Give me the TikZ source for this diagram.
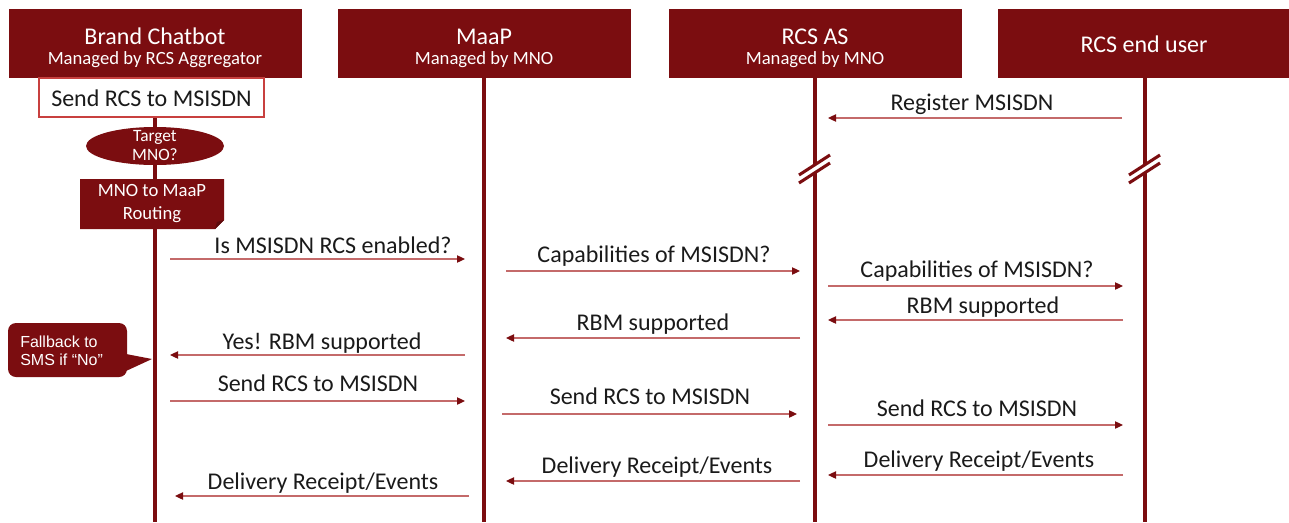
\documentclass[tikz,border=0pt]{standalone}
\usepackage{fontspec}
\setmainfont{Carlito}
\newfontfamily\arialf{Liberation Sans}
\usetikzlibrary{arrows.meta,shapes.geometric}
\definecolor{dred}{HTML}{7B0D10}
\definecolor{lred}{HTML}{C46A6A}
\definecolor{bred}{HTML}{C8403F}
\definecolor{txt}{HTML}{1A1A1A}
\begin{document}
\begin{tikzpicture}[x=0.75pt,y=-0.75pt,
  hdr/.style={rectangle,fill=dred,minimum width=219.75pt,minimum height=51.75pt,inner sep=0pt},
  htitle/.style={anchor=base,text=white,inner sep=0pt,font=\fontsize{18}{21}\selectfont},
  hsub/.style={anchor=base,text=white,inner sep=0pt,font=\fontsize{14}{17}\selectfont},
  life/.style={draw=dred,line width=3pt},
  brk/.style={draw=dred,line width=2.3pt},
  msg/.style={draw=lred,line width=0.9pt,-{Triangle[length=6pt,width=5.5pt,color=dred]}},
  lbl/.style={anchor=base,text=txt,inner sep=0pt,font=\fontsize{18}{21}\selectfont},
  sendbox/.style={rectangle,draw=bred,line width=1.1pt,fill=white,minimum width=168.75pt,minimum height=29.25pt,inner sep=0pt},
  decide/.style={ellipse,fill=dred,minimum width=103.5pt,minimum height=28.5pt,inner sep=0pt},
  smallw/.style={text=white,inner sep=0pt,align=center},
  callout/.style={fill=dred,rounded corners=6pt}
]
\useasboundingbox (0,0) rectangle (1289,522);

% headers
\node[hdr] (h1) at (155,43.5) {};
\node[hdr] (h2) at (484,43.5) {};
\node[hdr] (h3) at (815,43.5) {};
\node[hdr] (h4) at (1144,43.5) {};

% lifeline ends
\coordinate (b1) at (155,522);
\coordinate (b2) at (484,522);
\coordinate (b3) at (815,522);
\coordinate (b4) at (1145,522);
\draw[life] (h1.south) -- (b1);
\draw[life] (h2.south) -- (b2);
\draw[life] (h3.south) -- (b3);
\draw[life] ([xshift=0.75pt]h4.south) -- (b4);

% header texts
\node[htitle] (t1) at (155,44) {Brand Chatbot};
\node[hsub] (s1) at (155,64.5) {Managed by RCS Aggregator};
\node[htitle] (t2) at (484,44) {MaaP};
\node[hsub] (s2) at (484,64.5) {Managed by MNO};
\node[htitle] (t3) at (815,44) {RCS AS};
\node[hsub] (s3) at (815,64.5) {Managed by MNO};
\node[htitle] (t4) at (1144,52) {RCS end user};

% break marks
\fill[white] (799,175) -- (830,155) -- (830,163) -- (799,183) -- cycle;
\draw[brk] (799,175) -- (830,155);
\draw[brk] (799,183) -- (830,163);
\fill[white] (1129,175) -- (1160,155) -- (1160,163) -- (1129,183) -- cycle;
\draw[brk] (1129,175) -- (1160,155);
\draw[brk] (1129,183) -- (1160,163);

% brand-side process
\node[sendbox] (send) at (151.5,97.5) {};
\node[lbl] (sendt) at (151.5,106) {Send RCS to MSISDN};
\node[decide] (tgt) at (155,146) {};
\node[smallw,anchor=base,font=\fontsize{13}{14}\selectfont] (tgt1) at (155,141) {Target};
\node[smallw,anchor=base,font=\fontsize{13}{14}\selectfont] (tgt2) at (155,160) {MNO?};
\fill[dred] (80,179) -- (224,179) -- (224,220) -- (215,229) -- (80,229) -- cycle;
\fill[dred!75!black] (224,220) -- (215,229) -- (217,222) -- cycle;
\node[smallw,anchor=base,font=\fontsize{14}{16}\selectfont] (rt1) at (152,196) {MNO to MaaP};
\node[smallw,anchor=base,font=\fontsize{14}{16}\selectfont] (rt2) at (152,219) {Routing};

% callout
\fill[callout] (8,323) rectangle (127,377);
\fill[dred] (126,354) -- (152,359) -- (126,371) -- cycle;
\node[smallw,anchor=base west,align=left,font=\arialf\fontsize{12}{14}\selectfont] (fb1) at (20,347) {Fallback to};
\node[smallw,anchor=base west,align=left,font=\arialf\fontsize{12}{14}\selectfont] (fb2) at (20,365) {SMS if “No”};

% message end points
\coordinate (m1a) at (1122,118); \coordinate (m1b) at (828,118);
\coordinate (m2a) at (170,259);  \coordinate (m2b) at (465,259);
\coordinate (m3a) at (506,271);  \coordinate (m3b) at (800,271);
\coordinate (m4a) at (828,286);  \coordinate (m4b) at (1123,286);
\coordinate (m5a) at (1123,320); \coordinate (m5b) at (828,320);
\coordinate (m6a) at (800,338);  \coordinate (m6b) at (506,338);
\coordinate (m7a) at (465,355);  \coordinate (m7b) at (170,355);
\coordinate (m8a) at (170,401);  \coordinate (m8b) at (465,401);
\coordinate (m9a) at (502,414);  \coordinate (m9b) at (797,414);
\coordinate (m10a) at (828,425); \coordinate (m10b) at (1123,425);
\coordinate (m11a) at (1123,475);\coordinate (m11b) at (828,475);
\coordinate (m12a) at (800,481); \coordinate (m12b) at (506,481);
\coordinate (m13a) at (469,496); \coordinate (m13b) at (175,496);

\draw[msg] (m1a) -- (m1b);
\draw[msg] (m2a) -- (m2b);
\draw[msg] (m3a) -- (m3b);
\draw[msg] (m4a) -- (m4b);
\draw[msg] (m5a) -- (m5b);
\draw[msg] (m6a) -- (m6b);
\draw[msg] (m7a) -- (m7b);
\draw[msg] (m8a) -- (m8b);
\draw[msg] (m9a) -- (m9b);
\draw[msg] (m10a) -- (m10b);
\draw[msg] (m11a) -- (m11b);
\draw[msg] (m12a) -- (m12b);
\draw[msg] (m13a) -- (m13b);

% labels
\node[lbl] (l1) at (972,110) {Register MSISDN};
\node[lbl] (l2) at (333,253) {Is MSISDN RCS enabled?};
\node[lbl] (l3) at (654,262) {Capabilities of MSISDN?};
\node[lbl] (l4) at (977,277) {Capabilities of MSISDN?};
\node[lbl] (l5) at (983,313) {RBM supported};
\node[lbl] (l6) at (653,330) {RBM supported};
\node[lbl] (l7) at (322,349) {Yes! RBM supported};
\node[lbl] (l8) at (318,391) {Send RCS to MSISDN};
\node[lbl] (l9) at (650,404) {Send RCS to MSISDN};
\node[lbl] (l10) at (977,416) {Send RCS to MSISDN};
\node[lbl] (l11) at (979,467) {Delivery Receipt/Events};
\node[lbl] (l12) at (657,473) {Delivery Receipt/Events};
\node[lbl] (l13) at (323,489) {Delivery Receipt/Events};
\end{tikzpicture}
\end{document}
